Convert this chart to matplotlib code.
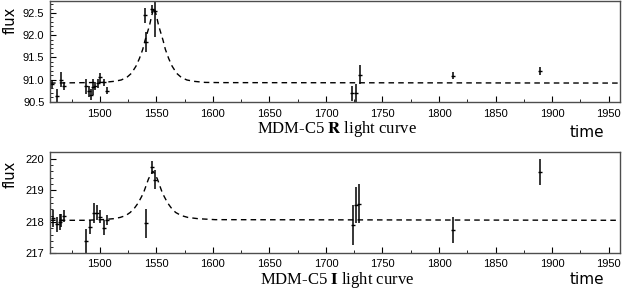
import matplotlib.pyplot as plt
import numpy as np
from matplotlib.ticker import MultipleLocator, FormatStrFormatter

plt.rcParams['mathtext.fontset'] = 'stix'

# R band data (time, flux, error)
r_t = [1458, 1462.6, 1465.5, 1468.4, 1488.2, 1490.3, 1491.8, 1494.1, 1495.6, 1498,
       1500.6, 1503.8, 1506.8, 1539.8, 1541.2, 1545.8, 1548.7,
       1723.3, 1726.3, 1730.1, 1812.1, 1889.4]
r_f = [90.90, 90.63, 91.00, 90.85, 90.85, 90.73, 90.66, 90.83, 90.85, 90.92,
       91.05, 90.94, 90.75, 92.45, 91.85, 92.59, 92.55,
       90.69, 90.70, 91.11, 91.09, 91.19]
r_e = [0.08, 0.16, 0.17, 0.09, 0.17, 0.13, 0.13, 0.19, 0.09, 0.10,
       0.10, 0.08, 0.08, 0.17, 0.22, 0.10, 0.60,
       0.17, 0.20, 0.21, 0.08, 0.09]

# R band model curve
r_mt = [1456, 1488, 1503, 1513, 1519, 1524, 1528, 1532, 1535, 1538, 1540, 1542, 1544,
        1546, 1548, 1550, 1552, 1554, 1556, 1558, 1561, 1564, 1568, 1572, 1577, 1583,
        1593, 1608, 1960]
r_mf = [90.92, 90.93, 90.935, 90.96, 90.99, 91.05, 91.14, 91.30, 91.47, 91.68, 91.88,
        92.05, 92.22, 92.45, 92.62, 92.45, 92.22, 92.05, 91.88, 91.68, 91.47, 91.30,
        91.14, 91.05, 90.99, 90.96, 90.935, 90.93, 90.92]

# I band data
i_t = [1458.7, 1462.2, 1464.6, 1466.1, 1468.4, 1488.2, 1491.2, 1494.7, 1497.6,
       1500.6, 1503.5, 1506.5, 1541.3, 1546.3, 1548.7,
       1723.6, 1726.5, 1729.5, 1812, 1889.4]
i_f = [218.11, 217.92, 218.00, 218.05, 218.18, 217.40, 217.84, 218.27, 218.29,
       218.16, 217.82, 218.05, 217.95, 219.73, 219.34,
       217.90, 218.53, 218.58, 217.74, 219.58]
i_e = [0.26, 0.24, 0.26, 0.21, 0.18, 0.39, 0.21, 0.32, 0.24,
       0.21, 0.24, 0.16, 0.47, 0.21, 0.29,
       0.63, 0.58, 0.63, 0.42, 0.42]

# I band model curve
i_mt = [1456, 1487, 1502, 1512, 1518, 1523, 1527, 1531, 1534, 1537, 1539, 1541, 1543,
        1545, 1547, 1549, 1551, 1553, 1555, 1557, 1560, 1563, 1567, 1572, 1578, 1587,
        1602, 1960]
i_mf = [218.05, 218.05, 218.07, 218.10, 218.14, 218.20, 218.30, 218.45, 218.60, 218.80,
        218.95, 219.15, 219.35, 219.50, 219.60, 219.50, 219.35, 219.15, 218.95, 218.80,
        218.60, 218.45, 218.30, 218.20, 218.14, 218.10, 218.07, 218.05]

W, H = 623, 291
fig = plt.figure(figsize=(W / 100, H / 100), dpi=100)
ax1 = fig.add_axes([0.0803, 0.6505, 0.9147, 0.3461])
ax2 = fig.add_axes([0.0803, 0.1289, 0.9147, 0.3477])

# (axes, data..., ylim, major, minor, fmt, title, pixel rows of flux/title/time, x pad)
panels = [
    (ax1, r_t, r_f, r_e, r_mt, r_mf, (90.5, 92.77), 0.5, 0.1, '%.1f',
     r'MDM-C5 $\mathbf{R}$ light curve', 20, 129, 133, 5),
    (ax2, i_t, i_f, i_e, i_mt, i_mf, (217.0, 220.2), 1.0, 0.2, '%d',
     r'MDM-C5 $\mathbf{I}$ light curve', 174, 279.5, 280, 4),
]

for ax, t, f, e, mt, mf, ylim, maj, mnr, fmt, title, yflux, ytitle, ytime, xpad in panels:
    ax.plot(mt, mf, color='black', linestyle=(0, (4, 3)), linewidth=1.0)
    ax.errorbar(t, f, yerr=e, fmt='_', color='black', markersize=3,
                elinewidth=1.1, capsize=0)
    ax.set_xlim(1456, 1960)
    ax.set_ylim(*ylim)
    ax.xaxis.set_major_locator(MultipleLocator(50))
    ax.xaxis.set_minor_locator(MultipleLocator(25))
    ax.yaxis.set_major_locator(MultipleLocator(maj))
    ax.yaxis.set_minor_locator(MultipleLocator(mnr))
    ax.yaxis.set_major_formatter(FormatStrFormatter(fmt))
    ax.tick_params(which='both', direction='in', top=False, right=False,
                   labelsize=8, colors='black')
    ax.tick_params(which='major', length=4, width=0.8)
    ax.tick_params(which='minor', length=2, width=0.6)
    ax.tick_params(axis='x', pad=xpad)
    ax.tick_params(axis='y', pad=4)
    for lab in ax.get_xticklabels() + ax.get_yticklabels():
        lab.set_family('Liberation Sans')
    for sp in ax.spines.values():
        sp.set_color('0.3')
        sp.set_linewidth(1.0)
    fig.text(10 / W, 1 - yflux / H, 'flux', rotation=90, ha='center', va='center',
             fontsize=10.5)
    fig.text(337 / W, 1 - ytitle / H, title, ha='center', va='center',
             fontsize=12, family='Liberation Serif')
    fig.text(587 / W, 1 - ytime / H, 'time', ha='center', va='center', fontsize=11)

fig.savefig('out.png', dpi=100)
